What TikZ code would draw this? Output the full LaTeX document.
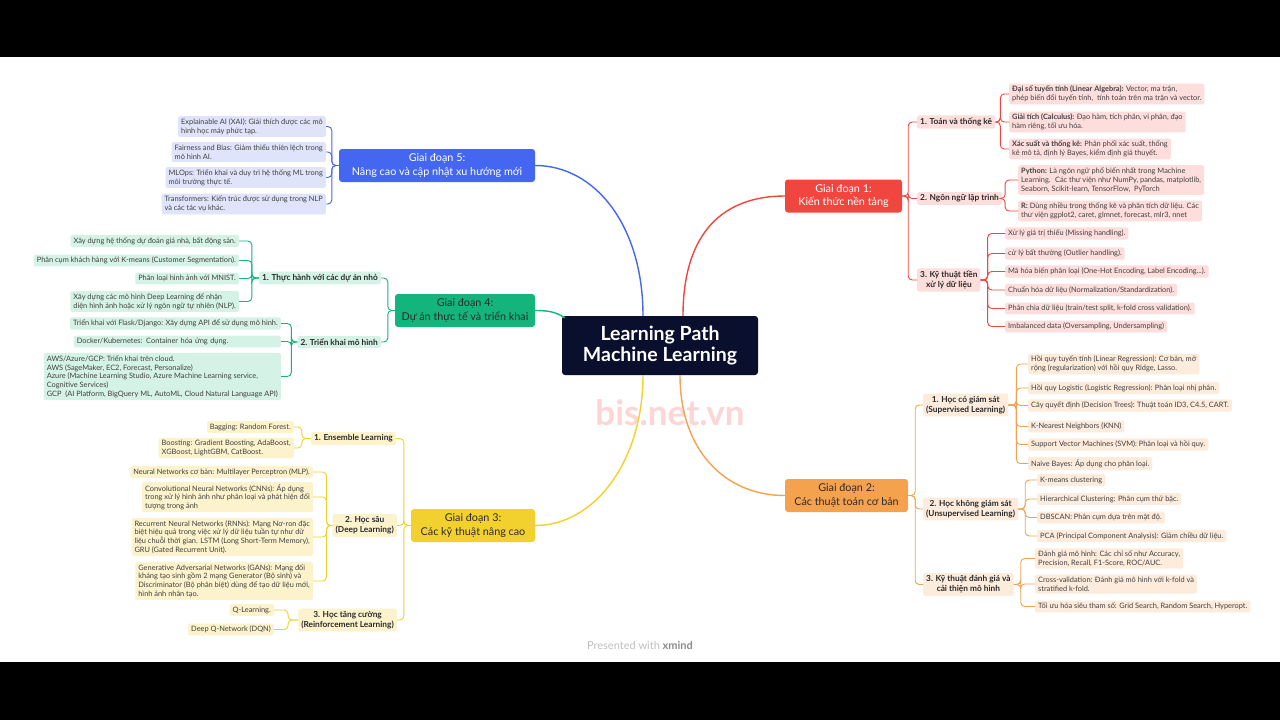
\documentclass[tikz,border=0pt]{standalone}
\usepackage{fontspec}
\setmainfont{Lato}
\definecolor{rootc}{HTML}{0B0F2E}
\definecolor{redc}{HTML}{F0463F}
\definecolor{redsoft}{HTML}{FDDEDC}
\definecolor{orangec}{HTML}{F5A24E}
\definecolor{orangesoft}{HTML}{FDEBDC}
\definecolor{yellowc}{HTML}{F2D12E}
\definecolor{yellowsoft}{HTML}{FCF2CB}
\definecolor{greenc}{HTML}{14B57C}
\definecolor{greensoft}{HTML}{D5F2E6}
\definecolor{bluec}{HTML}{4466F0}
\definecolor{bluesoft}{HTML}{DFE4FB}
\definecolor{inkc}{HTML}{2B2B2B}
\usetikzlibrary{calc}

\begin{document}
\begin{tikzpicture}[x=1pt, y=-1pt, inner sep=0pt,
  root/.style={fill=rootc, rounded corners=3pt, text=white, align=center, font=\fontsize{19.5}{21.5}\selectfont\bfseries, minimum width=196pt, minimum height=59pt},
  stage/.style={rounded corners=3pt, align=center, font=\fontsize{10.8}{13.5}\selectfont, minimum height=33pt},
  topic/.style={rounded corners=2pt, align=center, text=inkc, font=\fontsize{8.3}{10}\selectfont\bfseries, inner xsep=3pt, inner ysep=2.5pt},
  leaf/.style={rounded corners=2pt, align=left, text=inkc!90, font=\fontsize{7.4}{8.7}\selectfont, inner xsep=3pt, inner ysep=2.4pt},
  branch/.style={line width=1.4pt},
  twig/.style={line width=0.9pt, rounded corners=4pt}]
\useasboundingbox (0,0) rectangle (1280,720);
\fill[black] (0,0) rectangle (1280,57);
\fill[black] (0,662) rectangle (1280,720);
\fill[white] (0,57) rectangle (1280,662);

\node[text=redc!22, font=\fontsize{35}{35}\selectfont\bfseries] (mark) at (670,413) {bis.net.vn};
\node[text=black!25, font=\fontsize{11}{11}\selectfont] (credit) at (640,645) {Presented with \textbf{\color{black!45}xmind}};

\node[root] (ml) at (660,345.5) {Learning Path\\Machine Learning};

\node[stage, fill=redc, text=white, minimum width=117pt] (g1) at (843.5,196) {Giai đoạn 1:\\Kiến thức nền tảng};
\node[stage, fill=orangec, text=inkc, minimum width=123pt] (g2) at (846.5,495.5) {Giai đoạn 2:\\Các thuật toán cơ bản};
\node[stage, fill=yellowc, text=inkc, minimum width=124pt] (g3) at (473,525.5) {Giai đoạn 3:\\Các kỹ thuật nâng cao};
\node[stage, fill=greenc, text=inkc, minimum width=140pt] (g4) at (465,310.5) {Giai đoạn 4:\\Dự án thực tế và triển khai};
\node[stage, fill=bluec, text=white, minimum width=196pt] (g5) at (437,165.5) {Giai đoạn 5:\\Nâng cao và cập nhật xu hướng mới};

\draw[branch, redc] ([xshift=23pt]ml.north) .. controls +(0,-85) and +(-60,0) .. (g1.west);
\draw[branch, orangec] ([xshift=20pt]ml.south) .. controls +(0,75) and +(-60,0) .. (g2.west);
\draw[branch, yellowc] ([xshift=-17pt]ml.south) .. controls +(0,85) and +(60,0) .. (g3.east);
\draw[branch, greenc] (g4.east) .. controls +(16,0) and +(-8,-5) .. ([xshift=3pt,yshift=-2pt]ml.north west);
\draw[branch, bluec] ([xshift=-17pt]ml.north) .. controls +(0,-90) and +(60,0) .. (g5.east);

\node[topic, fill=redsoft, anchor=west] (t11) at (917,122) {1. Toán và thống kê};
\node[topic, fill=redsoft, anchor=west] (t12) at (917,198.5) {2. Ngôn ngữ lập trình};
\node[topic, fill=redsoft, anchor=west] (t13) at (917,280) {3. Kỹ thuật tiền\\xử lý dữ liệu};

\node[leaf, fill=redsoft, anchor=west] (l11a) at (1009,94) {\textbf{Đại số tuyến tính (Linear Algebra):} Vector, ma trận,\\phép biến đổi tuyến tính,~ tính toán trên ma trận và vector.};
\node[leaf, fill=redsoft, anchor=west] (l11b) at (1009,122) {\textbf{Giải tích (Calculus):} Đạo hàm, tích phân, vi phân, đạo\\hàm riêng, tối ưu hóa.};
\node[leaf, fill=redsoft, anchor=west] (l11c) at (1009,149) {\textbf{Xác suất và thống kê:} Phân phối xác suất, thống\\kê mô tả, định lý Bayes, kiểm định giả thuyết.};
\node[leaf, fill=redsoft, anchor=west] (l12a) at (1018,180) {\textbf{Python:} Là ngôn ngữ phổ biến nhất trong Machine\\Learning.~ Các thư viện như NumPy, pandas, matplotlib,\\Seaborn, Scikit-learn, TensorFlow,~ PyTorch};
\node[leaf, fill=redsoft, anchor=west] (l12b) at (1018,211) {\textbf{R:} Dùng nhiều trong thống kê và phân tích dữ liệu. Các\\thư viện ggplot2, caret, glmnet, forecast, mlr3, nnet};
\node[leaf, fill=redsoft, anchor=west] (l13a) at (1005,233.5) {Xử lý giá trị thiếu (Missing handling).};
\node[leaf, fill=redsoft, anchor=west] (l13b) at (1005,253.5) {cử lý bất thường (Outlier handling).};
\node[leaf, fill=redsoft, anchor=west] (l13c) at (1005,271.5) {Mã hóa biến phân loại (One-Hot Encoding, Label Encoding...).};
\node[leaf, fill=redsoft, anchor=west] (l13d) at (1005,290) {Chuẩn hóa dữ liệu (Normalization/Standardization).};
\node[leaf, fill=redsoft, anchor=west] (l13e) at (1005,308.5) {Phân chia dữ liệu (train/test split, k-fold cross validation).};
\node[leaf, fill=redsoft, anchor=west] (l13f) at (1005,326.5) {Imbalanced data (Oversampling, Undersampling)};

\node[topic, fill=orangesoft, anchor=west] (t21) at (923,405) {1. Học có giám sát\\(Supervised Learning)};
\node[topic, fill=orangesoft, anchor=west] (t22) at (923,509) {2. Học không giám sát\\(Unsupervised Learning)};
\node[topic, fill=orangesoft, anchor=west] (t23) at (923,584.5) {3. Kỹ thuật đánh giá và\\cải thiện mô hình};

\node[leaf, fill=orangesoft, anchor=west] (l21a) at (1028,364) {Hồi quy tuyến tính (Linear Regression): Cơ bản, mở\\rộng (regularization) với hồi quy Ridge, Lasso.};
\node[leaf, fill=orangesoft, anchor=west] (l21b) at (1028,388) {Hồi quy Logistic (Logistic Regression): Phân loại nhị phân.};
\node[leaf, fill=orangesoft, anchor=west] (l21c) at (1028,405.5) {Cây quyết định (Decision Trees): Thuật toán ID3, C4.5, CART.};
\node[leaf, fill=orangesoft, anchor=west] (l21d) at (1028,426.5) {K-Nearest Neighbors (KNN)};
\node[leaf, fill=orangesoft, anchor=west] (l21e) at (1028,444.5) {Support Vector Machines (SVM): Phân loại và hồi quy.};
\node[leaf, fill=orangesoft, anchor=west] (l21f) at (1028,463.5) {Naive Bayes: Áp dụng cho phân loại.};
\node[leaf, fill=orangesoft, anchor=west] (l22a) at (1037,480) {K-means clustering};
\node[leaf, fill=orangesoft, anchor=west] (l22b) at (1037,499) {Hierarchical Clustering: Phân cụm thứ bậc.};
\node[leaf, fill=orangesoft, anchor=west] (l22c) at (1037,517.5) {DBSCAN: Phân cụm dựa trên mật độ.};
\node[leaf, fill=orangesoft, anchor=west] (l22d) at (1037,536) {PCA (Principal Component Analysis): Giảm chiều dữ liệu.};
\node[leaf, fill=orangesoft, anchor=west] (l23a) at (1035,558.5) {Đánh giá mô hình: Các chỉ số như Accuracy,\\Precision, Recall, F1-Score, ROC/AUC.};
\node[leaf, fill=orangesoft, anchor=west] (l23b) at (1035,584) {Cross-validation: Đánh giá mô hình với k-fold và\\stratified k-fold.};
\node[leaf, fill=orangesoft, anchor=west] (l23c) at (1035,606.5) {Tối ưu hóa siêu tham số: Grid Search, Random Search, Hyperopt.};

\node[topic, fill=yellowsoft, anchor=east] (t31) at (396,438.5) {1. Ensemble Learning};
\node[topic, fill=yellowsoft, anchor=east] (t32) at (397,525.5) {2. Học sâu\\(Deep Learning)};
\node[topic, fill=yellowsoft, anchor=east] (t33) at (397,620) {3. Học tăng cường\\(Reinforcement Learning)};

\node[leaf, fill=yellowsoft, anchor=east] (l31a) at (294,427) {Bagging: Random Forest.};
\node[leaf, fill=yellowsoft, anchor=east] (l31b) at (294,448) {Boosting: Gradient Boosting, AdaBoost,\\XGBoost, LightGBM, CatBoost.};
\node[leaf, fill=yellowsoft, anchor=east] (l32a) at (313,472) {Neural Networks cơ bản: Multilayer Perceptron (MLP).};
\node[leaf, fill=yellowsoft, anchor=east] (l32b) at (313,497) {Convolutional Neural Networks (CNNs): Áp dụng\\trong xử lý hình ảnh như phân loại và phát hiện đối\\tượng trong ảnh};
\node[leaf, fill=yellowsoft, anchor=east] (l32c) at (313,537) {Recurrent Neural Networks (RNNs): Mạng Nơ-ron đặc\\biệt hiệu quả trong việc xử lý dữ liệu tuần tự như dữ\\liệu chuỗi thời gian. LSTM (Long Short-Term Memory),\\GRU (Gated Recurrent Unit).};
\node[leaf, fill=yellowsoft, anchor=east] (l32d) at (313,581) {Generative Adversarial Networks (GANs): Mạng đối\\kháng tạo sinh gồm 2 mạng Generator (Bộ sinh) và\\Discriminator (Bộ phân biệt) dùng để tạo dữ liệu mới,\\hình ảnh nhân tạo.};
\node[leaf, fill=yellowsoft, anchor=east] (l33a) at (274,610) {Q-Learning.};
\node[leaf, fill=yellowsoft, anchor=east] (l33b) at (274,629.5) {Deep Q-Network (DQN)};

\node[topic, fill=greensoft, anchor=east] (t41) at (381,278) {1. Thực hành với các dự án nhỏ};
\node[topic, fill=greensoft, anchor=east] (t42) at (381,342) {2. Triển khai mô hình};

\node[leaf, fill=greensoft, anchor=east] (l41a) at (239,241) {Xây dựng hệ thống dự đoán giá nhà, bất động sản.};
\node[leaf, fill=greensoft, anchor=east] (l41b) at (239,260.5) {Phân cụm khách hàng với K-means (Customer Segmentation).};
\node[leaf, fill=greensoft, anchor=east] (l41c) at (239,278.5) {Phân loại hình ảnh với MNIST.};
\node[leaf, fill=greensoft, anchor=east] (l41d) at (239,301.5) {Xây dựng các mô hình Deep Learning để nhận\\diện hình ảnh hoặc xử lý ngôn ngữ tự nhiên (NLP).};
\node[leaf, fill=greensoft, anchor=east] (l42a) at (281,323.5) {Triển khai với Flask/Django: Xây dựng API để sử dụng mô hình.};
\node[leaf, fill=greensoft, anchor=east, text width=201pt] (l42b) at (281,341.5) {Docker/Kubernetes: Container hóa ứng dụng.};
\node[leaf, fill=greensoft, anchor=east] (l42c) at (281,376.5) {AWS/Azure/GCP: Triển khai trên cloud.\\AWS (SageMaker, EC2, Forecast, Personalize)\\Azure (Machine Learning Studio, Azure Machine Learning service,\\Cognitive Services)\\GCP~ (AI Platform, BigQuery ML, AutoML, Cloud Natural Language API)};

\node[leaf, fill=bluesoft, anchor=east] (l5a) at (326,126.5) {Explainable AI (XAI): Giải thích được các mô\\hình học máy phức tạp.};
\node[leaf, fill=bluesoft, anchor=east] (l5b) at (326,152) {Fairness and Bias: Giảm thiểu thiên lệch trong\\mô hình AI.};
\node[leaf, fill=bluesoft, anchor=east] (l5c) at (326,177.5) {MLOps: Triển khai và duy trì hệ thống ML trong\\môi trường thực tế.};
\node[leaf, fill=bluesoft, anchor=east] (l5d) at (326,204) {Transformers: Kiến trúc được sử dụng trong NLP\\và các tác vụ khác.};

\foreach \t in {t11,t12,t13} \draw[twig, redc] (g1.east) -- ++(6,0) |- (\t.west);
\foreach \l in {l11a,l11b,l11c} \draw[twig, redc] (t11.east) -- ++(5,0) |- (\l.west);
\foreach \l in {l12a,l12b} \draw[twig, redc] (t12.east) -- ++(3,0) |- (\l.west);
\foreach \l in {l13a,l13b,l13c,l13d,l13e,l13f} \draw[twig, redc] (t13.east) -- ++(7,0) |- (\l.west);

\foreach \t in {t21,t22,t23} \draw[twig, orangec] (g2.east) -- ++(7,0) |- (\t.west);
\foreach \l in {l21a,l21b,l21c,l21d,l21e,l21f} \draw[twig, orangec] (t21.east) -- ++(8,0) |- (\l.west);
\foreach \l in {l22a,l22b,l22c,l22d} \draw[twig, orangec] (t22.east) -- ++(7,0) |- (\l.west);
\foreach \l in {l23a,l23b,l23c} \draw[twig, orangec] (t23.east) -- ++(7,0) |- (\l.west);

\foreach \t in {t31,t32,t33} \draw[twig, yellowc] (g3.west) -- ++(-7,0) |- (\t.east);
\foreach \l in {l31a,l31b} \draw[twig, yellowc] (t31.west) -- ++(-9,0) |- (\l.east);
\foreach \l in {l32a,l32b,l32c,l32d} \draw[twig, yellowc] (t32.west) -- ++(-6,0) |- (\l.east);
\foreach \l in {l33a,l33b} \draw[twig, yellowc] (t33.west) -- ++(-10,0) |- (\l.east);

\foreach \t in {t41,t42} \draw[twig, greenc] (g4.west) -- ++(-7,0) |- (\t.east);
\foreach \l in {l41a,l41b,l41c,l41d} \draw[twig, greenc] (t41.west) -- ++(-7,0) |- (\l.east);
\foreach \l in {l42a,l42b,l42c} \draw[twig, greenc] (t42.west) -- ++(-6,0) |- (\l.east);

\foreach \l in {l5a,l5b,l5c,l5d} \draw[twig, bluec] (g5.west) -- ++(-7,0) |- (\l.east);
\end{tikzpicture}
\end{document}
